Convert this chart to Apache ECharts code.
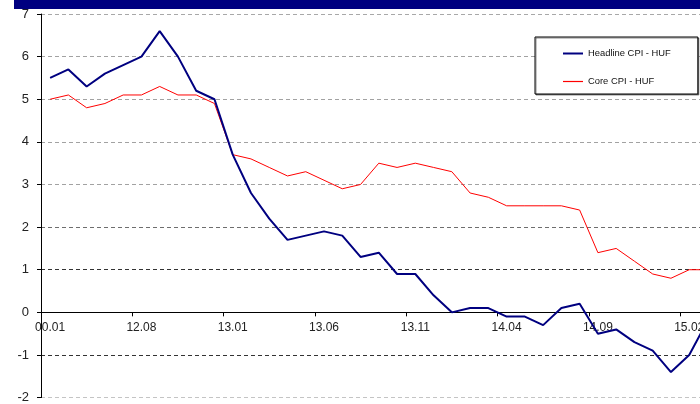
<!DOCTYPE html>
<html>
<head>
<meta charset="utf-8">
<title>Headline and core CPI</title>
<script src="https://cdn.jsdelivr.net/npm/echarts@6/dist/echarts.min.js"></script>
<style>
  html, body { margin: 0; padding: 0; background: #fff; }
  #chart { width: 700px; height: 404px; }
</style>
</head>
<body>
<div id="chart"></div>
<script>
// Monthly categories (year.month)
const months = ["00.01","12.04","12.05","12.06","12.07","12.08","12.09","12.10","12.11","12.12",
  "13.01","13.02","13.03","13.04","13.05","13.06","13.07","13.08","13.09","13.10","13.11","13.12",
  "14.01","14.02","14.03","14.04","14.05","14.06","14.07","14.08","14.09","14.10","14.11","14.12",
  "15.01","15.02","15.03"];

// Year-on-year inflation, %
const headlineCPI = [5.5,5.7,5.3,5.6,5.8,6.0,6.6,6.0,5.2,5.0,
  3.7,2.8,2.2,1.7,1.8,1.9,1.8,1.3,1.4,0.9,
  0.9,0.4,0.0,0.1,0.1,-0.1,-0.1,-0.3,0.1,0.2,
  -0.5,-0.4,-0.7,-0.9,-1.4,-1.0,-0.2];
const coreCPI = [5.0,5.1,4.8,4.9,5.1,5.1,5.3,5.1,5.1,4.9,
  3.7,3.6,3.4,3.2,3.3,3.1,2.9,3.0,3.5,3.4,
  3.5,3.4,3.3,2.8,2.7,2.5,2.5,2.5,2.5,2.4,
  1.4,1.5,1.2,0.9,0.8,1.0,1.0];

const seriesNames = ["Headline CPI - HUF", "Core CPI - HUF"];
const seriesColors = ["#000080", "#ff0000"];
const yTicks = { min: -2, max: 7, step: 1 };

const FONT = "Liberation Sans, Arial, sans-serif";
const GRID_TOP = 14, GRID_BOTTOM = 6.4, HEIGHT = 404;
const plotHeight = HEIGHT - GRID_TOP - GRID_BOTTOM;
// the category axis sits on the zero line: shift it up from the grid bottom
const zeroOffset = -plotHeight * (0 - yTicks.min) / (yTicks.max - yTicks.min);

const chart = echarts.init(document.getElementById("chart"), null, { renderer: "canvas" });

// grid lines, bottom to top
const gridColors = ["#c4c4c4", "#333333", "#000000", "#333333", "#6e6e6e",
  "#a2a2a2", "#a2a2a2", "#a2a2a2", "#a2a2a2", "#a8a8a8"];

// legend keys: thin horizontal strokes matching each series' line weight
const legendIcons = ["path://M0,0h20v2h-20z", "path://M0,0h20v1.2h-20z"];

chart.setOption({
  animation: false,
  backgroundColor: "#ffffff",
  graphic: [{
    type: "rect",
    shape: { x: 14, y: 0, width: 686, height: 9 },
    style: { fill: "#000080" },
    silent: true
  }],
  grid: {
    left: 41, top: GRID_TOP, bottom: GRID_BOTTOM, right: -16.6,
    containLabel: false, outerBoundsMode: "none"
  },
  legend: {
    orient: "vertical",
    left: 535,
    top: 37,
    data: seriesNames.map((n, i) => ({
      name: n,
      icon: legendIcons[i],
      itemStyle: { color: seriesColors[i], borderWidth: 0 }
    })),
    itemWidth: 20,
    itemHeight: 14,
    itemGap: 19,
    padding: [12, 27, 8, 28],
    backgroundColor: "#ffffff",
    borderColor: "#000000",
    borderWidth: 1,
    shadowColor: "rgba(0,0,0,0.45)",
    shadowOffsetX: 1,
    shadowOffsetY: 1,
    textStyle: { fontFamily: FONT, fontSize: 9.4, color: "#111" }
  },
  xAxis: {
    type: "category",
    data: months,
    boundaryGap: true,
    position: "bottom",
    offset: zeroOffset,
    axisLine: { onZero: false, lineStyle: { color: "#000", width: 1 } },
    axisTick: { show: true, interval: 4, length: 4, lineStyle: { color: "#000" } },
    axisLabel: { interval: 4, margin: 9, fontFamily: FONT, fontSize: 12, color: "#222" },
    splitLine: { show: false }
  },
  yAxis: {
    type: "value",
    min: yTicks.min,
    max: yTicks.max,
    interval: yTicks.step,
    axisLine: { show: true, lineStyle: { color: "#000", width: 1 } },
    axisTick: { show: true, length: 4, lineStyle: { color: "#000" } },
    axisLabel: { margin: 12, fontFamily: FONT, fontSize: 13, color: "#222" },
    splitLine: {
      show: true,
      lineStyle: { color: gridColors, width: 1, type: [4, 3] }
    }
  },
  series: [
    {
      name: seriesNames[1],
      type: "line",
      data: coreCPI,
      symbol: "none",
      lineStyle: { color: seriesColors[1], width: 1 },
      itemStyle: { color: seriesColors[1] },
      z: 2
    },
    {
      name: seriesNames[0],
      type: "line",
      data: headlineCPI,
      symbol: "none",
      lineStyle: { color: seriesColors[0], width: 2 },
      itemStyle: { color: seriesColors[0] },
      z: 3
    }
  ]
});
</script>
</body>
</html>
